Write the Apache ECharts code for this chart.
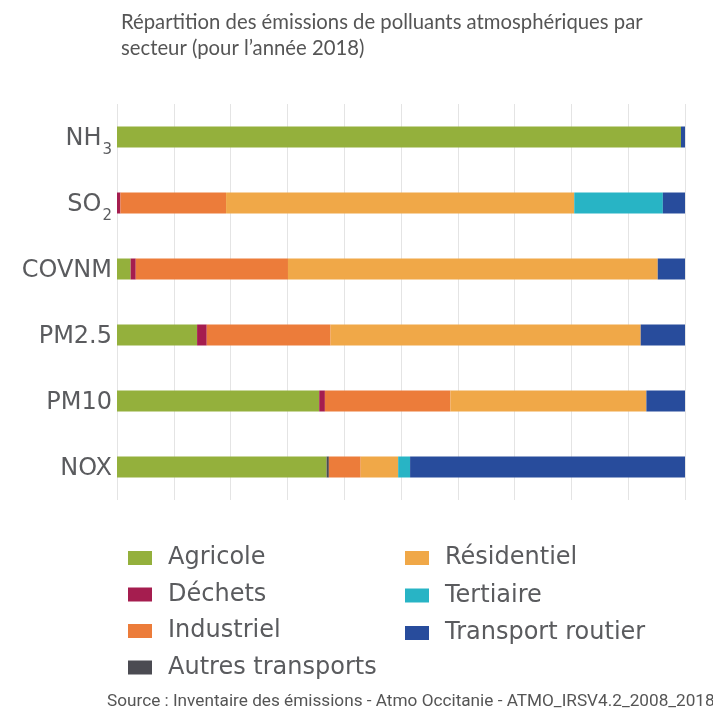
<!DOCTYPE html>
<html>
<head>
<meta charset="utf-8">
<script src="https://cdn.jsdelivr.net/npm/echarts@6/dist/echarts.min.js"></script>
<style>
  html, body { margin: 0; padding: 0; background: #ffffff; }
  #chart { width: 713px; height: 715px; }
</style>
</head>
<body>
<div id="chart"></div>
<script>
// Pollutants, top to bottom
const pollutants = ['NH3', 'SO2', 'COVNM', 'PM2.5', 'PM10', 'NOX'];

// Share of emissions per sector (%), one value per pollutant
const agricole         = [99.3, 0,    2.4,  14.1, 35.6, 36.9];
const autresTransports = [0,    0,    0,    0,    0,    0.4];
const dechets          = [0,    0.6,  0.9,  1.7,  1.0,  0];
const industriel       = [0,    18.6, 26.8, 21.8, 22.1, 5.6];
const residentiel      = [0,    61.3, 65.1, 54.6, 34.5, 6.6];
const tertiaire        = [0,    15.6, 0,    0,    0,    2.1];
const transportRoutier = [0.7,  3.9,  4.8,  7.8,  6.8,  48.4];

const sectorColors = {
  'Agricole': '#94b03c',
  'Déchets': '#a51d4f',
  'Industriel': '#ec7c3a',
  'Autres transports': '#4b4b52',
  'Résidentiel': '#f0a848',
  'Tertiaire': '#28b4c5',
  'Transport routier': '#284c9c'
};

const seriesDefs = [
  ['Agricole', agricole],
  ['Autres transports', autresTransports],
  ['Déchets', dechets],
  ['Industriel', industriel],
  ['Résidentiel', residentiel],
  ['Tertiaire', tertiaire],
  ['Transport routier', transportRoutier]
];

const labelColor = '#5a5b5e';

function pollutantLabel(v) {
  if (v === 'NH3') return '{m|NH}{s|3}';
  if (v === 'SO2') return '{m|SO}{s|2}';
  return '{m|' + v + '}';
}

const legendText = {
  fontFamily: 'DejaVu Sans',
  fontSize: 24,
  color: labelColor,
  lineHeight: 26,
  padding: [0, 0, 0, 11]
};

const chart = echarts.init(document.getElementById('chart'), null, { renderer: 'canvas' });

chart.setOption({
  backgroundColor: '#ffffff',
  animation: false,
  title: [
    {
      text: 'Répartition des émissions de polluants atmosphériques par\nsecteur (pour l’année 2018)',
      left: 121,
      top: 9,
      padding: 0,
      textStyle: {
        fontFamily: 'Lato',
        fontSize: 20.3,
        fontWeight: 'normal',
        color: '#555555',
        lineHeight: 26
      }
    },
    {
      text: 'Source : Inventaire des émissions - Atmo Occitanie - ATMO_IRSV4.2_2008_2018',
      left: 107,
      top: 693,
      padding: 0,
      textStyle: {
        fontFamily: 'Roboto',
        fontSize: 17.2,
        fontWeight: 'normal',
        color: '#555555'
      }
    }
  ],
  legend: [
    {
      data: ['Agricole', 'Déchets', 'Industriel', 'Autres transports'],
      orient: 'vertical',
      left: 128,
      top: 545,
      padding: 0,
      itemWidth: 24,
      itemHeight: 14,
      itemGap: 10.5,
      selectedMode: false,
      icon: 'rect',
      itemStyle: { borderWidth: 0 },
      textStyle: legendText
    },
    {
      data: ['Résidentiel', 'Tertiaire', 'Transport routier'],
      orient: 'vertical',
      left: 405,
      top: 545,
      padding: 0,
      itemWidth: 24,
      itemHeight: 14,
      itemGap: 11.5,
      selectedMode: false,
      icon: 'rect',
      itemStyle: { borderWidth: 0 },
      textStyle: legendText
    }
  ],
  grid: {
    left: 117,
    right: 28,
    top: 104,
    bottom: 215,
    containLabel: false
  },
  xAxis: {
    type: 'value',
    min: 0,
    max: 100,
    interval: 10,
    axisLabel: { show: false },
    axisLine: { show: false },
    axisTick: { show: false },
    splitLine: { show: true, lineStyle: { color: '#e4e4e4', width: 1 } }
  },
  yAxis: {
    type: 'category',
    data: pollutants,
    inverse: true,
    axisLine: { show: false },
    axisTick: { show: false },
    splitLine: { show: false },
    axisLabel: {
      margin: 5,
      formatter: pollutantLabel,
      rich: {
        m: { fontFamily: 'DejaVu Sans', fontSize: 24, color: labelColor, padding: [3, 0, 0, 0] },
        s: { fontFamily: 'DejaVu Sans', fontSize: 15, color: labelColor, padding: [26, 0, 0, 1] }
      }
    }
  },
  series: seriesDefs.map(([name, values]) => ({
    name: name,
    type: 'bar',
    stack: 'total',
    barWidth: 21,
    data: values,
    itemStyle: { color: sectorColors[name] },
    emphasis: { disabled: true }
  }))
});
</script>
</body>
</html>
